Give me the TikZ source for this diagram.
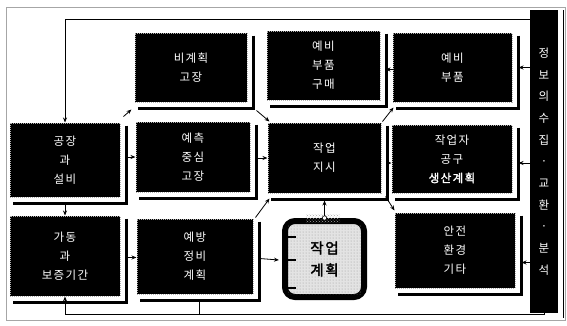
\documentclass[tikz,border=0pt]{standalone}
\usepackage{fontspec}
\newfontfamily\kr[LetterSpace=12,AutoFakeBold=2]{Noto Sans CJK KR}
\usetikzlibrary{calc,arrows.meta,patterns}
\begin{document}
\begin{tikzpicture}[x=1pt,y=-1pt,
 bx/.style={fill=black, draw=gray!60, densely dotted, line width=1pt, text=white, align=center, inner sep=0pt, font=\kr\fontsize{11.5}{19}\selectfont},
 shd/.style={line width=2.6pt},
 conn/.style={line width=0.8pt},
 arr/.style={conn, -{Stealth[length=5pt,width=4pt]}},
 frame/.style={draw=gray!70, line width=0.6pt},
]
\useasboundingbox (0,0) rectangle (567,325);
% outer frame
\draw[frame] (6,7) rectangle (565,320);
% boxes
\node[bx, minimum width=112, minimum height=69] (A) at (191,67.5) {비계획\\고장};
\node[bx, minimum width=113, minimum height=69] (B) at (323.5,65.5) {예비\\부품\\구매};
\node[bx, minimum width=119, minimum height=69] (C) at (452.5,67.5) {예비\\부품};
\node[bx, minimum width=110, minimum height=74] (D) at (65,160) {공장\\과\\설비};
\node[bx, minimum width=114, minimum height=70] (E) at (193,157) {예측\\중심\\고장};
\node[bx, minimum width=113, minimum height=70] (F) at (324.5,158) {작업\\지시};
\node[bx, minimum width=120, minimum height=68] (G) at (452,159) {작업자\\공구\\\bfseries 생산계획};
\node[bx, minimum width=110, minimum height=80] (H) at (65,256) {가동\\과\\보증기간};
\node[bx, minimum width=116, minimum height=75] (I) at (195,256.5) {예방\\정비\\계획};
\node[bx, minimum width=120, minimum height=75] (K) at (455,250.5) {안전\\환경\\기타};
% shadows
\foreach \n in {A,B,C,D,E,F,G,H,I,K}{
  \draw[shd] ($(\n.north east)+(6,3)$) -- ($(\n.south east)+(6,6)$) -- ($(\n.south west)+(3,6)$);
}
% info bar
\node[fill=black, minimum width=28, minimum height=303, inner sep=0pt] (Bar) at (544,161.5) {};
\draw[line width=0.8pt] (563,10) -- (563,318);
\node[text=white, align=center, font=\kr\fontsize{11.5}{21.7}\selectfont] (BarT) at (Bar.center) {정\\보\\의\\수\\집\\·\\교\\환\\·\\분\\석};
% work plan (clipboard)
\node[draw=black, line width=6pt, rounded corners=10pt, fill=gray!22, minimum width=79, minimum height=76, inner sep=0pt] (J) at (324.5,259) {};
\fill[pattern=dots, pattern color=gray!80] (288,224) rectangle (361,294);
\node[font=\kr\bfseries\fontsize{14.5}{22}\selectfont, align=center] (JT) at (J.center) {작업\\계획};
\fill[pattern=crosshatch dots, pattern color=gray!70] (306,214) rectangle (340,222);
\foreach \yy in {237,260,288}{\draw[line width=1.4pt] (287,\yy) -- (296,\yy);}
% connectors
\draw[arr] ($(Bar.north west)+(0,10)$) -| (D.north);
\draw[arr] ($(D.north east)+(3,-6)$) -- ($(A.south west)+(-3,7)$);
\draw[arr] ($(E.west)+(-9,0)$) -- (E.west);
\draw[arr] ($(F.west)+(-12,0)$) -- (F.west);
\draw[arr] ($(G.west)+(-5,4)$) -- ($(G.west)+(0,4)$);
\draw[arr] ($(D.south)+(0,6)$) -- (H.north);
\draw[arr] ($(I.west)+(-10,1)$) -- ($(I.west)+(0,1)$);
\draw[arr] ($(I.east)+(6,2)$) -- ($(J.west)+(-3,1)$);
\draw[arr] ($(I.north east)+(2,-1)$) -- ($(F.south west)+(2,5)$);
\draw[arr] ($(A.south east)+(9,8)$) -- ($(F.north west)+(2,-1)$);
\draw[arr] (J.north) -- ($(F.south)+(0,7)$);
\draw[fill=white, line width=0.6pt] (J.north) circle (2.2);
\draw[arr] ($(F.north east)+(1,-1)$) -- ($(C.south west)+(1,5)$);
\draw[arr] ($(F.south east)+(4,3)$) -- ($(K.north west)+(0,-2)$);
\draw[arr] ($(C.west)+(0,2)$) -- ($(C.west)+(-7,2)$);
\draw[arr] (Bar.west |- C.east) -- ($(C.east)+(6,0)$);
\draw[arr] ($(Bar.west |- G.east)+(0,4)$) -- ($(G.east)+(6,4)$);
\draw[arr] ($(Bar.west |- K.east)+(0,12)$) -- ($(K.east)+(6,12)$);
\draw[arr] (Bar.south) -- ++(0,1) -| (H.south);
\draw[conn] ($(I.south)+(4,6)$) -- ++(0,13);
\end{tikzpicture}
\end{document}
